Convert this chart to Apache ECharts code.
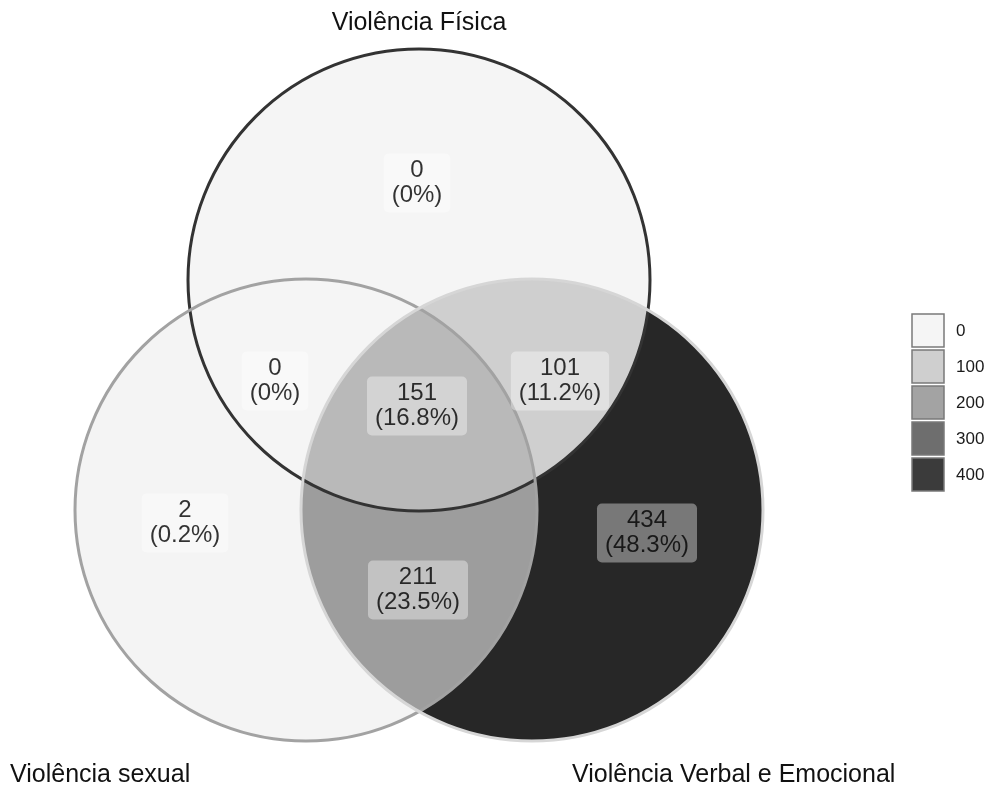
<!DOCTYPE html>
<html><head><meta charset="utf-8">
<script src="https://cdn.jsdelivr.net/npm/echarts@6/dist/echarts.min.js"></script>
<style>html,body{margin:0;padding:0;background:#fff}#c{width:995px;height:787px}</style>
</head><body><div id="c"></div>
<script>
// ---- data ----
const setNames = ['Violência Física', 'Violência sexual', 'Violência Verbal e Emocional'];
const circleX = [419, 306, 532];
const circleY = [280, 510, 510];
const circleR = [231, 231, 231];
const regionSets = [[0], [1], [2], [0, 1], [0, 2], [1, 2], [0, 1, 2]];
const regionCounts = [0, 2, 434, 0, 101, 211, 151];
const legendValues = [0, 100, 200, 300, 400];

// ---- layout (label anchors, data units) ----
const labelX = [417, 185, 647, 275, 560, 418, 417];
const labelY = [183, 523, 533, 381, 381, 590, 406];

// ---- styles ----
const edgeColors = ['#333333', '#a2a2a2', '#d6d6d6'];
const fillStops = ['#f5f5f5', '#cfcfcf', '#a3a3a3', '#6e6e6e', '#3b3b3b', '#000000'];
const legendColors = ['#f5f5f5', '#cfcfcf', '#a3a3a3', '#6e6e6e', '#3b3b3b'];
const FONT = 'Liberation Sans, Arial, sans-serif';

const total = regionCounts.reduce((a, b) => a + b, 0);

// ---- geometry helpers (data units) ----
function circlePoly(i, n) {
  const pts = [];
  for (let k = 0; k < n; k++) {
    const t = 2 * Math.PI * k / n;
    pts.push([circleX[i] + circleR[i] * Math.cos(t), circleY[i] + circleR[i] * Math.sin(t)]);
  }
  return pts;
}
function clipConvex(subject, clip) {
  let out = subject;
  const n = clip.length;
  let area = 0;
  for (let i = 0; i < n; i++) { const a = clip[i], b = clip[(i + 1) % n]; area += a[0] * b[1] - b[0] * a[1]; }
  const sgn = area > 0 ? 1 : -1;
  for (let i = 0; i < n; i++) {
    const A = clip[i], B = clip[(i + 1) % n];
    const inside = p => sgn * ((B[0] - A[0]) * (p[1] - A[1]) - (B[1] - A[1]) * (p[0] - A[0])) >= 0;
    const inter = (P, Q) => {
      const a1 = B[1] - A[1], b1 = A[0] - B[0], c1 = a1 * A[0] + b1 * A[1];
      const a2 = Q[1] - P[1], b2 = P[0] - Q[0], c2 = a2 * P[0] + b2 * P[1];
      const det = a1 * b2 - a2 * b1;
      return [(b2 * c1 - b1 * c2) / det, (a1 * c2 - a2 * c1) / det];
    };
    const input = out; out = [];
    if (!input.length) break;
    for (let j = 0; j < input.length; j++) {
      const P = input[j], Q = input[(j + 1) % input.length];
      const pin = inside(P), qin = inside(Q);
      if (pin) { out.push(P); if (!qin) out.push(inter(P, Q)); }
      else if (qin) out.push(inter(P, Q));
    }
  }
  return out;
}
const N = 360;
const circlePolys = [0, 1, 2].map(i => circlePoly(i, N));
// painter's order: single sets, then pairwise lenses, then the triple lens
const fillPolys = regionSets.map(s => {
  let p = circlePolys[s[0]];
  for (let k = 1; k < s.length; k++) p = clipConvex(p, circlePolys[s[k]]);
  return p;
});

function pct(v) {
  let s = (v / total * 100).toFixed(1);
  if (s.endsWith('.0')) s = s.slice(0, -2);
  return s + '%';
}

const chart = echarts.init(document.getElementById('c'));
const legendGraphics = [];
legendValues.forEach((v, i) => {
  legendGraphics.push({
    type: 'rect', x: 912, y: 314 + i * 36,
    shape: { x: 0, y: 0, width: 32, height: 33 },
    style: { fill: legendColors[i], stroke: '#7a7a7a', lineWidth: 1.5 }
  });
  legendGraphics.push({
    type: 'text', x: 956, y: 331 + i * 36,
    style: { text: String(v), fill: '#1a1a1a', font: '17px ' + FONT, verticalAlign: 'middle' }
  });
});

chart.setOption({
  animation: false,
  backgroundColor: '#ffffff',
  grid: { left: 0, top: 0, right: 0, bottom: 0 },
  xAxis: { type: 'value', min: 0, max: 995, show: false },
  yAxis: { type: 'value', min: 0, max: 787, inverse: true, show: false },
  visualMap: {
    show: false, type: 'continuous', seriesIndex: 0, dimension: 1,
    min: 0, max: 500, inRange: { color: fillStops }
  },
  graphic: [
    { type: 'text', x: 419, y: 23, style: { text: setNames[0], fill: '#111', font: '25px ' + FONT, align: 'center', verticalAlign: 'middle' } },
    { type: 'text', x: 10, y: 775, style: { text: setNames[1], fill: '#111', font: '25px ' + FONT, align: 'left', verticalAlign: 'middle' } },
    { type: 'text', x: 572, y: 775, style: { text: setNames[2], fill: '#111', font: '25px ' + FONT, align: 'left', verticalAlign: 'middle' } }
  ].concat(legendGraphics),
  series: [
    {
      type: 'custom', coordinateSystem: 'cartesian2d',
      encode: { x: 0, y: 1 },
      data: regionCounts.map((c, i) => [i, c]),
      renderItem: function (params, api) {
        const idx = api.value(0);
        const pts = fillPolys[idx].map(p => api.coord(p));
        return { type: 'polygon', shape: { points: pts }, style: { fill: api.visual('color'), stroke: null } };
      },
      silent: true, z: 1
    },
    {
      type: 'custom', coordinateSystem: 'cartesian2d',
      encode: { x: 0, y: 1 },
      data: circleX.map((x, i) => [x, circleY[i], circleR[i], i]),
      renderItem: function (params, api) {
        const c = api.coord([api.value(0), api.value(1)]);
        const r = api.size([api.value(2), 0])[0];
        return { type: 'circle', shape: { cx: c[0], cy: c[1], r: r }, style: { fill: 'none', stroke: edgeColors[api.value(3)], lineWidth: 3 } };
      },
      silent: true, z: 2
    },
    {
      type: 'scatter', symbolSize: 0, z: 3, silent: true,
      data: regionCounts.map((c, i) => [labelX[i], labelY[i], c]),
      label: {
        show: true, position: 'inside',
        formatter: p => p.value[2] + '\n(' + pct(p.value[2]) + ')',
        fontFamily: FONT, fontSize: 24, color: '#000', lineHeight: 25,
        backgroundColor: 'rgba(255,255,255,0.47)', borderRadius: 5, padding: [5, 8, 4, 8]
      }
    }
  ]
});
</script>
</body></html>
